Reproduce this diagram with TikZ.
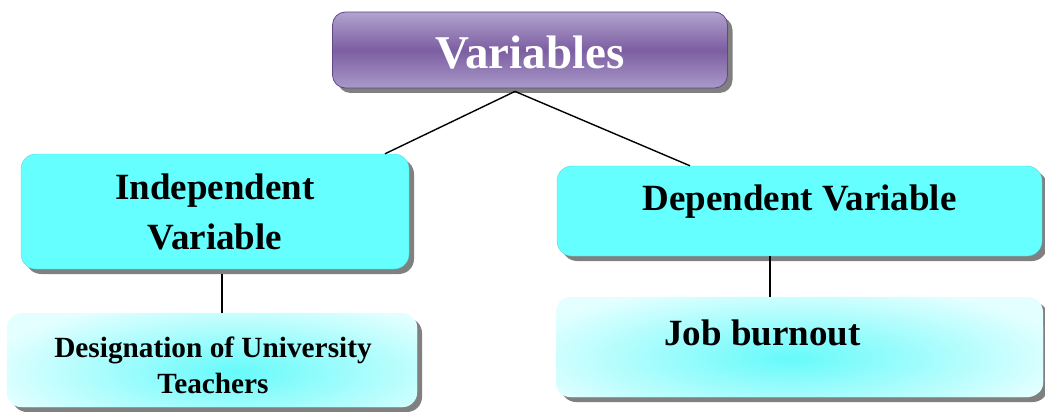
\documentclass[tikz,border=0pt]{standalone}
\usepackage{fontspec}
\setmainfont{Liberation Serif}
\usetikzlibrary{shadows,calc}
\definecolor{cyanbox}{HTML}{66FFFF}
\definecolor{lightcyan}{HTML}{E4FFFF}
\definecolor{glowcyan}{HTML}{66FAFA}
\definecolor{purtop}{HTML}{B2A3CF}
\definecolor{purmid}{HTML}{7C5EA1}
\definecolor{purbot}{HTML}{A999C9}
\definecolor{purdraw}{HTML}{604887}
\definecolor{shadowgray}{HTML}{808080}
\tikzset{
  boxshadow/.style={drop shadow={shadow xshift=5pt,shadow yshift=-5pt,fill=shadowgray,opacity=1}},
  titlebox/.style={rounded corners=13pt, draw=purdraw, line width=0.8pt,
    top color=purtop, bottom color=purbot, middle color=purmid, boxshadow, inner sep=0pt},
  varbox/.style={rounded corners=15pt, fill=cyanbox, draw=cyanbox!85!black, line width=0.4pt, boxshadow,
    inner sep=0pt},
  lightbox/.style={rounded corners=15pt, fill=lightcyan, boxshadow, inner sep=0pt},
  glow/.style={inner color=glowcyan, outer color=lightcyan},
  titletext/.style={text=white, font=\fontsize{47}{50}\selectfont\bfseries, inner sep=0pt},
  bigtext/.style={font=\fontsize{37}{50}\selectfont\bfseries, align=center, inner sep=0pt},
  smalltext/.style={font=\fontsize{29.3}{36}\selectfont\bfseries, align=center, inner sep=0pt},
  conn/.style={draw=black, line width=1.4pt}
}
\begin{document}
\begin{tikzpicture}[x=1pt,y=-1pt]
\useasboundingbox (0,0) rectangle (1045,412);
% boxes
\node[titlebox, minimum width=395pt, minimum height=76pt] (var) at (530,50) {};
\node[varbox, minimum width=388pt, minimum height=115pt] (ind) at (215,211.5) {};
\node[varbox, minimum width=485pt, minimum height=90pt] (dep) at (799.5,211) {};
\node[lightbox, minimum width=410pt, minimum height=94pt] (des) at (212,360) {};
\node[lightbox, minimum width=487pt, minimum height=100pt] (job) at (799.5,347) {};
% glows
\begin{scope}
  \clip[rounded corners=15pt] (des.north west) rectangle (des.south east);
  \shade[glow] (235,372) ellipse (250 and 75);
\end{scope}
\begin{scope}
  \clip[rounded corners=15pt] (job.north west) rectangle (job.south east);
  \shade[glow] (790,358) ellipse (280 and 75);
\end{scope}
% texts
\node[titletext] (vartext) at ($(var.center)+(0,3)$) {Variables};
\node[bigtext] (indtext) at (ind.center) {Independent\\Variable};
\node[bigtext] (deptext) at ($(dep.center)+(0,-9)$) {Dependent Variable};
\node[smalltext] (destext) at ($(des.center)+(1,5)$) {Designation of University\\Teachers};
\node[bigtext] (jobtext) at (762.5,333) {Job burnout};
% connectors
\coordinate (vj) at ($(var.south)+(-15,3)$);
\coordinate (indtop) at ($(ind.north)+(170,0)$);
\coordinate (deptop) at ($(dep.north)+(-109.5,0)$);
\coordinate (indbot) at ($(ind.south)+(7,5)$);
\coordinate (desin) at (indbot |- des.north);
\coordinate (depbot) at ($(dep.south)+(-29.5,0)$);
\coordinate (jobin) at (depbot |- job.north);
\draw[conn] (vj) -- (indtop);
\draw[conn] (vj) -- (deptop);
\draw[conn] (indbot) -- (desin);
\draw[conn] (depbot) -- (jobin);
\end{tikzpicture}
\end{document}
